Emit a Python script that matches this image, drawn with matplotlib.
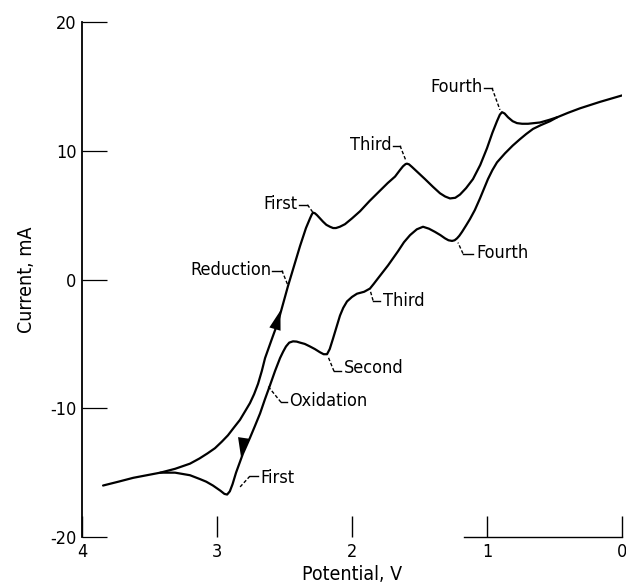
import numpy as np
import matplotlib
matplotlib.use('Agg')
import matplotlib.pyplot as plt

plt.rcParams['font.family'] = ['DejaVu Sans']
plt.rcParams['font.stretch'] = 'condensed'

# Reduction sweep (4 V -> 0 V)
red_v = [3.844, 3.73, 3.62, 3.52, 3.42, 3.31, 3.20, 3.13, 3.07, 3.015, 2.965, 2.919,
         2.875, 2.830, 2.79, 2.756, 2.725, 2.696, 2.668, 2.644,
         2.593, 2.548, 2.474, 2.385, 2.341, 2.311, 2.298, 2.289, 2.275, 2.259, 2.237,
         2.215, 2.19, 2.163, 2.14, 2.119, 2.09,
         2.052, 2.0, 1.941, 1.87, 1.793, 1.735, 1.681, 1.645, 1.622, 1.603, 1.593, 1.578,
         1.556, 1.51, 1.459, 1.40, 1.348, 1.31, 1.274, 1.235, 1.20, 1.155,
         1.104, 1.05, 1.0, 0.96, 0.926, 0.905, 0.889, 0.87, 0.844, 0.81, 0.778, 0.74, 0.696,
         0.607, 0.54, 0.481, 0.40, 0.311, 0.163, 0.0]
red_i = [-16.0, -15.7, -15.4, -15.2, -15.0, -14.7, -14.3, -13.9, -13.5, -13.1, -12.6, -12.1,
         -11.5, -10.9, -10.2, -9.6, -8.9, -8.1, -7.1, -6.1,
         -4.6, -3.3, -0.5, 2.6, 4.0, 4.75, 5.05, 5.2, 5.15, 5.0, 4.75,
         4.5, 4.25, 4.1, 4.0, 4.0, 4.1,
         4.3, 4.75, 5.3, 6.1, 6.9, 7.5, 8.0, 8.5, 8.8, 8.97, 9.0, 8.95,
         8.75, 8.3, 7.8, 7.2, 6.7, 6.45, 6.3, 6.35, 6.6, 7.1,
         7.8, 8.9, 10.2, 11.4, 12.3, 12.8, 13.0, 12.9, 12.6, 12.3, 12.15, 12.1, 12.1,
         12.2, 12.4, 12.6, 12.95, 13.3, 13.8, 14.3]

# Oxidation sweep (back from 0 V towards 4 V)
ox_v = [0.481, 0.533, 0.60, 0.659, 0.71, 0.756, 0.81, 0.867, 0.926, 0.96, 0.993, 1.052,
        1.09, 1.126, 1.155, 1.185, 1.205, 1.222, 1.24, 1.259, 1.285, 1.311, 1.345, 1.385,
        1.43, 1.474, 1.52, 1.570, 1.615, 1.659, 1.733, 1.807, 1.84, 1.867, 1.91, 1.963,
        2.0, 2.037, 2.065, 2.089, 2.115, 2.141, 2.165, 2.185, 2.21, 2.237, 2.275, 2.311,
        2.35, 2.385, 2.41, 2.437, 2.465, 2.489, 2.51, 2.533, 2.57, 2.607,
        2.645, 2.681, 2.72, 2.756, 2.807, 2.859, 2.885, 2.905, 2.925, 2.945, 2.975,
        3.030, 3.08, 3.126, 3.20, 3.311, 3.42]
ox_i = [12.6, 12.3, 12.0, 11.7, 11.3, 10.9, 10.4, 9.8, 9.1, 8.5, 7.8, 6.3,
        5.4, 4.7, 4.2, 3.7, 3.4, 3.2, 3.05, 3.0, 3.05, 3.2, 3.45, 3.7,
        3.95, 4.1, 3.9, 3.45, 2.9, 2.2, 1.1, 0.1, -0.35, -0.7, -0.95, -1.1,
        -1.35, -1.7, -2.2, -2.8, -3.7, -4.6, -5.4, -5.8, -5.8, -5.65, -5.4, -5.2,
        -5.0, -4.9, -4.82, -4.8, -4.9, -5.2, -5.6, -6.1, -7.1, -8.2,
        -9.3, -10.4, -11.4, -12.3, -13.5, -15.0, -15.9, -16.45, -16.7, -16.65, -16.4,
        -16.0, -15.7, -15.5, -15.2, -15.0, -15.0]

# labels: text, text anchor (x, y), ha, hook start, hook end, leader target
labels = [
    ('First', (2.407, 5.89), 'right', (2.393, 5.81), (2.330, 5.81), (2.292, 5.25)),
    ('Third', (1.704, 10.47), 'right', (1.696, 10.39), (1.644, 10.39), (1.600, 9.22)),
    ('Fourth', (1.030, 14.96), 'right', (1.022, 14.88), (0.963, 14.88), (0.904, 13.18)),
    ('Reduction', (2.600, 0.78), 'right', (2.593, 0.70), (2.519, 0.70), (2.474, -0.47)),
    ('Oxidation', (2.467, -9.46), 'left', (2.481, -9.53), (2.526, -9.53), (2.622, -8.29)),
    ('Second', (2.059, -6.90), 'left', (2.081, -7.13), (2.133, -7.13), (2.178, -5.97)),
    ('Third', (1.770, -1.63), 'left', (1.793, -1.63), (1.844, -1.63), (1.867, -0.78)),
    ('Fourth', (1.081, 2.09), 'left', (1.104, 2.02), (1.178, 2.02), (1.215, 2.87)),
    ('First', (2.681, -15.43), 'left', (2.696, -15.27), (2.756, -15.27), (2.830, -16.12)),
]

# sweep direction arrows: (tip, tail)
arrows = [((2.530, -2.4), (2.575, -4.0)),
          ((2.822, -13.8), (2.800, -12.2))]

fig = plt.figure(figsize=(6.26, 5.85), dpi=100)
ax = fig.add_axes([0.131, 0.082, 0.8626, 0.8803])

ax.plot(red_v, red_i, color='black', lw=1.6, solid_joinstyle='round', solid_capstyle='round')
ax.plot(ox_v, ox_i, color='black', lw=1.6, solid_joinstyle='round', solid_capstyle='round')

for tip, tail in arrows:
    ax.annotate('', xy=tip, xytext=tail,
                arrowprops=dict(arrowstyle='-|>,head_length=1.0,head_width=0.3',
                                color='black', lw=0, shrinkA=0, shrinkB=0,
                                mutation_scale=14))

for text, pos, ha, h0, h1, tgt in labels:
    ax.text(pos[0], pos[1], text, ha=ha, va='center', fontsize=13)
    ax.plot([h0[0], h1[0]], [h0[1], h1[1]], color='black', lw=1.0)
    ax.plot([h1[0], tgt[0]], [h1[1], tgt[1]], color='black', lw=1.0, ls=(0, (2.5, 1.5)))

ax.set_xlim(4, 0)
ax.set_ylim(-20, 20)
ax.set_xticks([4, 3, 2, 1, 0])
ax.set_yticks([-20, -10, 0, 10, 20])
ax.set_xticklabels(['4', '3', '2', '1', '0'])
ax.set_yticklabels(['-20', '-10', '0', '10', '20'])
ax.tick_params(axis='y', direction='in', length=18, width=0.9, pad=4, labelsize=13)
ax.tick_params(axis='x', direction='in', length=15, width=1.0, pad=4, labelsize=13)

ax.spines['top'].set_visible(False)
ax.spines['right'].set_visible(False)
ax.spines['left'].set_linewidth(1.3)
ax.spines['bottom'].set_linewidth(1.0)
ax.spines['bottom'].set_bounds(0, 1.17)

ax.set_xlabel('Potential, V', fontsize=14, labelpad=3)
ax.set_ylabel('Current, mA', fontsize=14, labelpad=10)

fig.savefig('out.png', dpi=100)
